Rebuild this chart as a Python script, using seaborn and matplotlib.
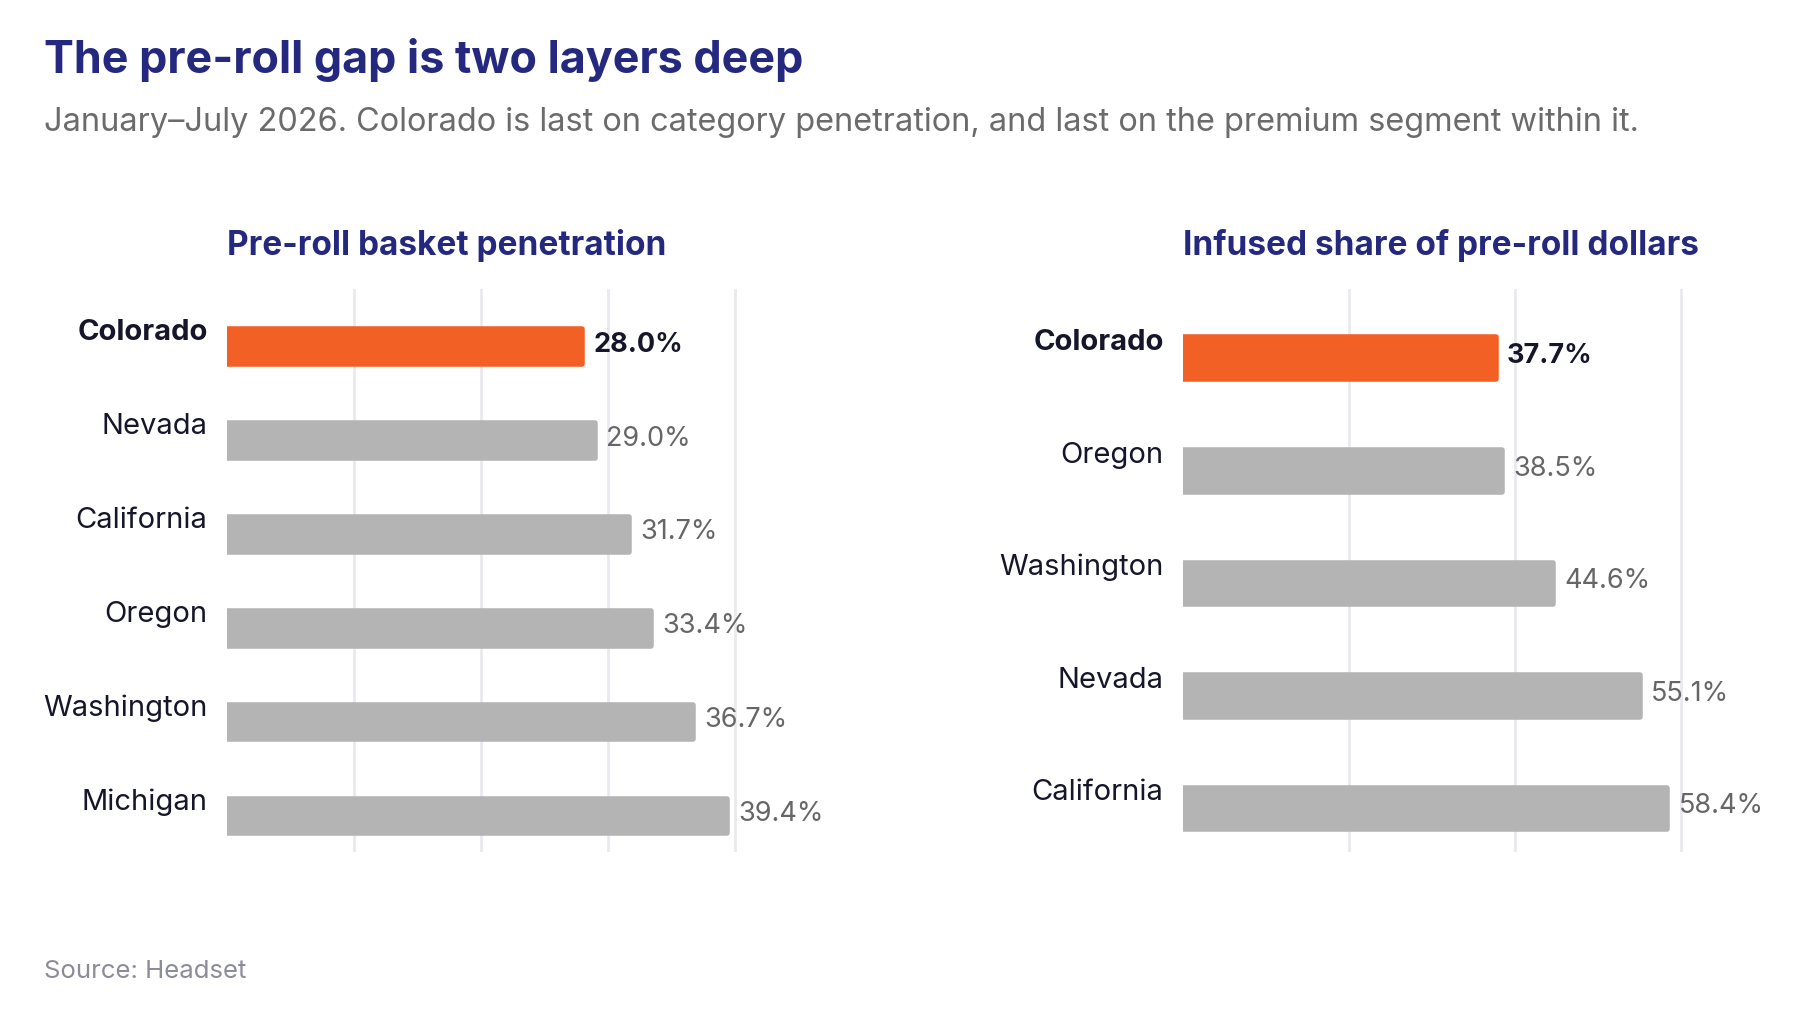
import matplotlib
matplotlib.use("Agg")
import matplotlib.pyplot as plt
import seaborn as sns
import pandas as pd

# data
pen_states = ["Colorado", "Nevada", "California", "Oregon", "Washington", "Michigan"]
pen_values = [28.0, 29.0, 31.7, 33.4, 36.7, 39.4]
inf_states = ["Colorado", "Oregon", "Washington", "Nevada", "California"]
inf_values = [37.7, 38.5, 44.6, 55.1, 58.4]
highlight = "Colorado"

pen_ticks = [10, 20, 30, 40]
inf_ticks = [20, 40, 60]

NAVY = "#24297F"
ORANGE = "#F26026"
GREY_BAR = "#B4B4B4"
DARK = "#16162B"
GREY_TXT = "#666666"

sns.set_theme(style="white")
plt.rcParams["font.family"] = ["Inter", "DejaVu Sans"]

fig = plt.figure(figsize=(18.02, 10.23), dpi=100)
fig.patch.set_facecolor("white")

W, H = 1802, 1023
ax_bottom = 1 - 852 / H
ax_height = (852 - 289) / H
ax1 = fig.add_axes([227 / W, ax_bottom, 589 / W, ax_height])
ax2 = fig.add_axes([1183 / W, ax_bottom, 564 / W, ax_height])


def draw_panel(ax, states, values, ticks, xmax, label_dy):
    df = pd.DataFrame({"state": states, "value": values})
    pal = {s: (ORANGE if s == highlight else GREY_BAR) for s in states}
    sns.barplot(data=df, x="value", y="state", hue="state", palette=pal,
                order=states, hue_order=states, legend=False, orient="h",
                width=0.37, saturation=1, ax=ax)
    # round the bar ends with a thick edge in the bar colour
    for p in ax.patches:
        p.set_edgecolor(p.get_facecolor())
        p.set_linewidth(4)
        p.set_joinstyle("round")
    n = len(states)
    ax.set_xlim(0, xmax)
    ax.set_ylim(n - 0.615, -0.615)
    ax.set_xticks(ticks)
    ax.grid(axis="x", color="#E9E9EF", linewidth=2)
    ax.grid(axis="y", visible=False)
    ax.set_axisbelow(True)
    ax.tick_params(left=False, bottom=False, labelleft=False, labelbottom=False)
    for s in ax.spines.values():
        s.set_visible(False)
    ax.set_xlabel("")
    ax.set_ylabel("")
    for i, (s, v) in enumerate(zip(states, values)):
        hl = s == highlight
        ax.annotate(s, xy=(0, i - label_dy), xytext=(-14, 0),
                    textcoords="offset points", ha="right", va="center",
                    fontsize=21, color=DARK,
                    fontweight="bold" if hl else "normal", annotation_clip=False)
        ax.annotate(f"{v:.1f}%", xy=(v, i - 0.02), xytext=(8, 0),
                    textcoords="offset points", ha="left", va="center",
                    fontsize=19.5, color=DARK if hl else GREY_TXT,
                    fontweight="bold" if hl else "normal", annotation_clip=False)


draw_panel(ax1, pen_states, pen_values, pen_ticks, 46.4, 0.15)
draw_panel(ax2, inf_states, inf_values, inf_ticks, 68, 0.14)

fig.text(44 / W, 1 - 60 / H, "The pre-roll gap is two layers deep",
         fontsize=32.3, fontweight="bold", color=NAVY, va="center", ha="left")
fig.text(44 / W, 1 - 122 / H,
         "January\u2013July 2026. Colorado is last on category penetration, "
         "and last on the premium segment within it.",
         fontsize=23.4, color="#6B6B6B", va="center", ha="left")
fig.text(227 / W, 1 - 246 / H, "Pre-roll basket penetration",
         fontsize=24, fontweight="bold", color=NAVY, va="center", ha="left")
fig.text(1183 / W, 1 - 246 / H, "Infused share of pre-roll dollars",
         fontsize=24, fontweight="bold", color=NAVY, va="center", ha="left")
fig.text(44 / W, 1 - 971 / H, "Source: Headset",
         fontsize=18.5, color="#8C8C99", va="center", ha="left")

fig.savefig("out.png", dpi=100, facecolor="white")
